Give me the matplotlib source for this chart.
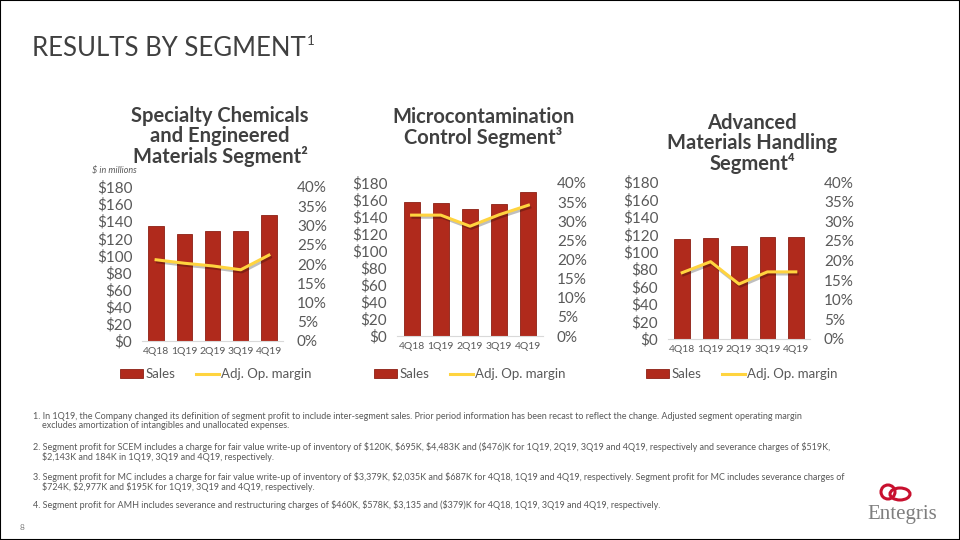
import matplotlib
matplotlib.use('Agg')
import matplotlib.pyplot as plt
from matplotlib.patches import Patch, Rectangle, Ellipse
from matplotlib.lines import Line2D
import matplotlib.patheffects as pe

plt.rcParams['font.family'] = ['Lato', 'DejaVu Sans']

# data
quarters = ['4Q18', '1Q19', '2Q19', '3Q19', '4Q19']
scem_sales = [134, 125, 128, 128, 147]
scem_margin = [21.1, 20.2, 19.5, 18.5, 22.3]
mc_sales = [158, 157, 150, 155, 169]
mc_margin = [31.6, 31.6, 28.7, 31.7, 34.2]
amh_sales = [115, 115.5, 107, 117, 117]
amh_margin = [16.9, 19.7, 14.0, 17.1, 17.1]

sales_ticks = [0, 20, 40, 60, 80, 100, 120, 140, 160, 180]
margin_ticks = [0, 5, 10, 15, 20, 25, 30, 35, 40]

titles = ['Specialty Chemicals\nand Engineered\nMaterials Segment\u00b2',
          'Microcontamination\nControl Segment\u00b3',
          'Advanced\nMaterials Handling\nSegment\u2074']

footnotes = [
    '1. In 1Q19, the Company changed its definition of segment profit to include inter-segment sales. Prior period information has been recast to reflect the change. Adjusted segment operating margin\n    excludes amortization of intangibles and unallocated expenses.',
    '2. Segment profit for SCEM includes a charge for fair value write-up of inventory of $120K, $695K, $4,483K and ($476)K for 1Q19, 2Q19, 3Q19 and 4Q19, respectively and severance charges of $519K,\n    $2,143K and 184K in 1Q19, 3Q19 and 4Q19, respectively.',
    '3. Segment profit for MC includes a charge for fair value write-up of inventory of $3,379K, $2,035K and $687K for 4Q18, 1Q19 and 4Q19, respectively. Segment profit for MC includes severance charges of\n    $724K, $2,977K and $195K for 1Q19, 3Q19 and 4Q19, respectively.',
    '4. Segment profit for AMH includes severance and restructuring charges of $460K, $578K, $3,135 and ($379)K for 4Q18, 1Q19, 3Q19 and 4Q19, respectively.',
]

W, H = 960, 540
bar_col = '#B02A1C'
line_col = '#FFD43F'
txt_col = '#595959'

fig = plt.figure(figsize=(9.6, 5.4), dpi=100)

def px_axes(x0, x1, ytop, ybot):
    return fig.add_axes([x0 / W, 1 - ybot / H, (x1 - x0) / W, (ybot - ytop) / H])

# panel positions in pixels: plot box, title centre, title top, legend centre
panels = [
    dict(box=(142, 283, 187, 341), tx=220, ty=106, lx=216, sales=scem_sales, margin=scem_margin),
    dict(box=(397, 543, 183, 336), tx=483, ty=107, lx=470, sales=mc_sales, margin=mc_margin),
    dict(box=(668, 810, 182, 339), tx=752, ty=113, lx=742, sales=amh_sales, margin=amh_margin),
]

for i, p in enumerate(panels):
    ax = px_axes(*p['box'])
    x = range(len(quarters))
    ax.bar(x, p['sales'], width=0.55, color=bar_col, edgecolor='#8C2014', linewidth=0.6, zorder=2)
    ax.set_xlim(-0.5, 4.5)
    ax.set_ylim(0, 180)
    ax.set_yticks(sales_ticks)
    ax.set_yticklabels(['$%d' % v for v in sales_ticks], fontsize=11, color=txt_col)
    ax.set_xticks(list(x))
    ax.set_xticklabels(quarters, fontsize=7.5, color=txt_col)
    ax.tick_params(length=0, axis='y', pad=7)
    ax.tick_params(length=0, axis='x', pad=4)
    for s in ['top', 'right', 'left']:
        ax.spines[s].set_visible(False)
    ax.spines['bottom'].set_color('#D9D9D9')

    ax2 = ax.twinx()
    ax2.plot(list(x), p['margin'], color=line_col, linewidth=2.2, solid_joinstyle='round',
             path_effects=[pe.SimpleLineShadow(offset=(1, -1.5), alpha=0.25), pe.Normal()])
    ax2.set_ylim(0, 40)
    ax2.set_yticks(margin_ticks)
    ax2.set_yticklabels(['%d%%' % v for v in margin_ticks], fontsize=11, color=txt_col)
    ax2.tick_params(length=0, pad=10)
    for s in ax2.spines.values():
        s.set_visible(False)

    fig.text(p['tx'] / W, 1 - p['ty'] / H, titles[i], ha='center', va='top',
             fontsize=14.5, fontweight='bold', color='#404040', linespacing=1.0)

    handles = [Patch(facecolor=bar_col, edgecolor='#8C2014', linewidth=0.6),
               Line2D([0], [0], color=line_col, linewidth=2.2)]
    fig.legend(handles, ['Sales', 'Adj. Op. margin'], loc='center',
               bbox_to_anchor=(p['lx'] / W, 1 - 374 / H), ncol=2, frameon=False,
               fontsize=9.5, handlelength=1.7, handleheight=0.6, handletextpad=0.2,
               columnspacing=1.6, labelcolor=txt_col)

fig.text(92 / W, 1 - 171 / H, '$ in millions', fontsize=6.5, style='italic',
         color=txt_col, va='center')

# slide title
fig.text(32 / W, 1 - 48 / H, 'RESULTS BY SEGMENT', fontsize=18.5,
         color='#404040', va='center', ha='left')
fig.text(307 / W, 1 - 41 / H, '1', fontsize=9.5,
         color='#404040', va='center', ha='left')

# footnotes
foot_y = [412, 442, 472, 500]
for fy, ft in zip(foot_y, footnotes):
    fig.text(33 / W, 1 - fy / H, ft.replace('$', r'\$'), fontsize=6.45, color=txt_col,
             va='top', ha='left', linespacing=1.05)

fig.text(20 / W, 1 - 527 / H, '8', fontsize=6, color='#808080', va='center')

# logo
fig.text(902 / W, 1 - 515 / H, 'Entegris', family='Liberation Serif', fontsize=15,
         color='#7F7F7F', ha='center', va='center')
fig.patches.append(Ellipse((888 / W, 1 - 492 / H), 14 / W, 14 / H, fill=False,
                           edgecolor='#C8102E', linewidth=2.2, transform=fig.transFigure))
fig.patches.append(Ellipse((900 / W, 1 - 494 / H), 20 / W, 12 / H, fill=False,
                           edgecolor='#C8102E', linewidth=2.2, transform=fig.transFigure))

# slide border
fig.patches.append(Rectangle((0, 0), 1, 1, fill=False, edgecolor='black', linewidth=1.5,
                             transform=fig.transFigure))

fig.savefig('out.png', dpi=100)
